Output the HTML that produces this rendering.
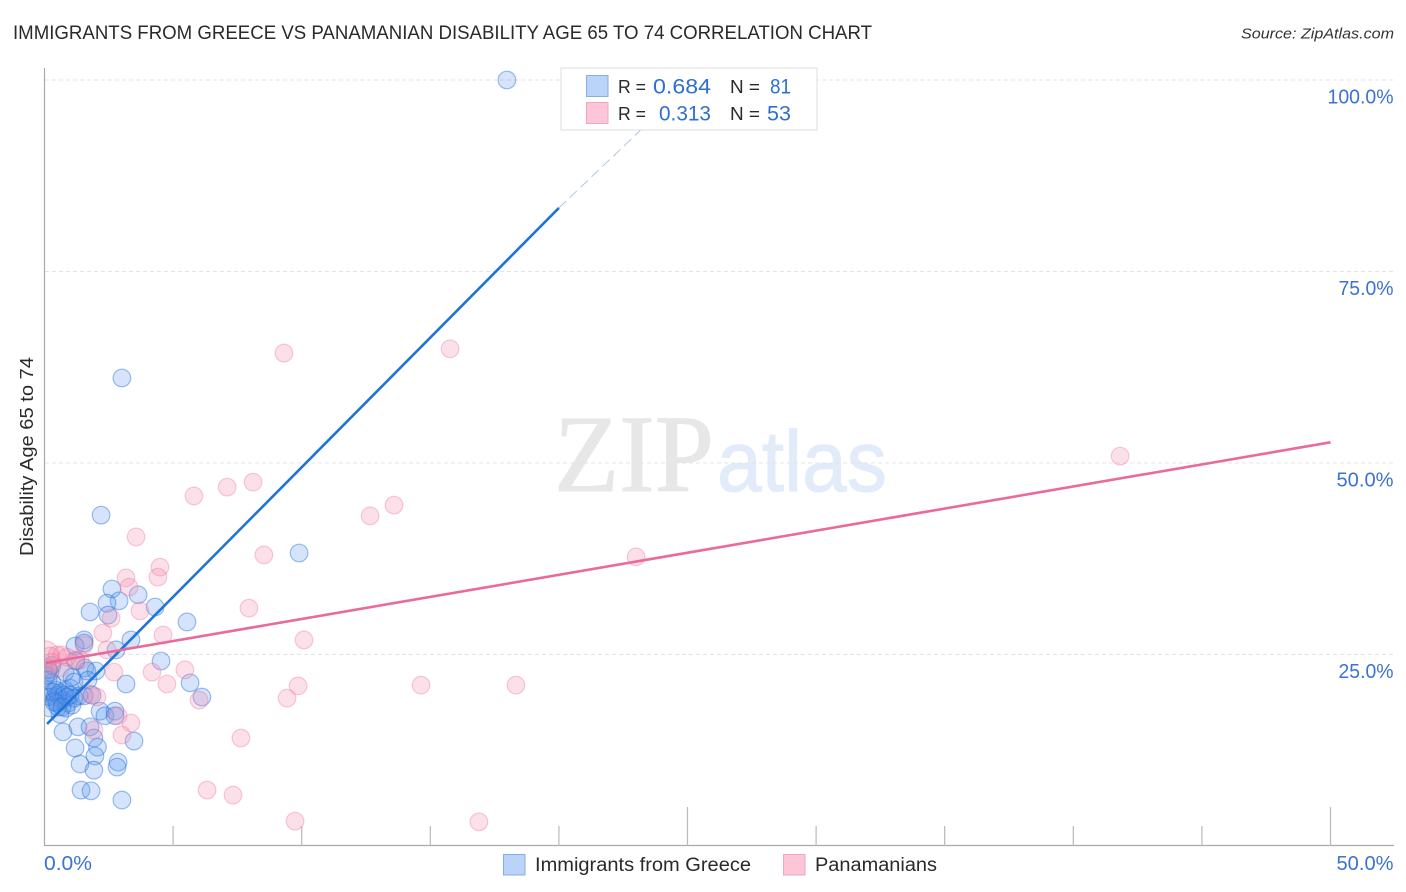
<!DOCTYPE html>
<html lang="en">
<head>
<meta charset="utf-8">
<title>Immigrants from Greece vs Panamanian Disability Age 65 to 74 Correlation Chart</title>
<style>
html,body{margin:0;padding:0;background:#fff;width:1406px;height:892px;overflow:hidden}
svg{display:block;font-family:"Liberation Sans",sans-serif}
</style>
</head>
<body>
<svg id="chart" xmlns="http://www.w3.org/2000/svg" width="1406" height="892" viewBox="0 0 1406 892">
  <defs>
    <clipPath id="plot-clip"><rect x="45" y="66" width="1349" height="780"/></clipPath>
  </defs>
  <text x="13" y="39" font-size="19.5" fill="#2a2a2e" textLength="859" lengthAdjust="spacingAndGlyphs">IMMIGRANTS FROM GREECE VS PANAMANIAN DISABILITY AGE 65 TO 74 CORRELATION CHART</text>
  <text x="1241" y="38.5" font-size="15" font-style="italic" fill="#333" textLength="153" lengthAdjust="spacingAndGlyphs">Source: ZipAtlas.com</text>

  <g>
    <text x="554" y="491" font-family="'Liberation Serif',serif" font-size="110" fill="#e7e7e7" stroke="#e7e7e7" stroke-width="1" textLength="160" lengthAdjust="spacingAndGlyphs">ZIP</text>
    <text x="717" y="491" font-size="86" fill="#e2ebf9" stroke="#e2ebf9" stroke-width="1" textLength="170" lengthAdjust="spacingAndGlyphs">atlas</text>
  </g>

  <g id="grid"></g>
  <g id="axes"></g>
  <g id="blue-points" clip-path="url(#plot-clip)"></g>
  <g id="pink-points" clip-path="url(#plot-clip)"></g>
  <g id="trends"></g>
  <g id="labels"></g>

  <text transform="translate(33,456.5) rotate(-90)" text-anchor="middle" font-size="18.5" fill="#2a2a2e" textLength="199" lengthAdjust="spacingAndGlyphs">Disability Age 65 to 74</text>

  <g>
    <rect x="561" y="68" width="256" height="62" fill="#fff" fill-opacity="0.92" stroke="#dedede" stroke-width="1"/>
    <rect x="586.5" y="75.5" width="21.5" height="21" fill="#b9d4f8" stroke="#86aee6"/>
    <rect x="586.5" y="102.5" width="21.5" height="21" fill="#fcc5d8" stroke="#f3a6c0"/>
    <text x="618" y="93" font-size="18.5" fill="#2a2a2e" textLength="28" lengthAdjust="spacingAndGlyphs">R =</text>
    <text x="653" y="93.5" font-size="21" fill="#2f6fd0" textLength="58" lengthAdjust="spacingAndGlyphs">0.684</text>
    <text x="730" y="93" font-size="18.5" fill="#2a2a2e" textLength="30" lengthAdjust="spacingAndGlyphs">N =</text>
    <text x="770" y="93.5" font-size="21" fill="#2f6fd0" textLength="21" lengthAdjust="spacingAndGlyphs">81</text>
    <text x="618" y="120" font-size="18.5" fill="#2a2a2e" textLength="28" lengthAdjust="spacingAndGlyphs">R =</text>
    <text x="659" y="120.5" font-size="21" fill="#2f6fd0" textLength="52" lengthAdjust="spacingAndGlyphs">0.313</text>
    <text x="730" y="120" font-size="18.5" fill="#2a2a2e" textLength="30" lengthAdjust="spacingAndGlyphs">N =</text>
    <text x="767" y="120.5" font-size="21" fill="#2f6fd0" textLength="24" lengthAdjust="spacingAndGlyphs">53</text>
  </g>

  <g>
    <g>
      <rect x="503.5" y="854.5" width="21.5" height="20.5" fill="#b9d4f8" stroke="#86aee6"/>
      <text x="535" y="871" font-size="19" fill="#2a2a2e" textLength="216" lengthAdjust="spacingAndGlyphs">Immigrants from Greece</text>
    </g>
    <g>
      <rect x="783.5" y="854.5" width="21.5" height="20.5" fill="#fcc5d8" stroke="#f3a6c0"/>
      <text x="815" y="871" font-size="19" fill="#2a2a2e" textLength="122" lengthAdjust="spacingAndGlyphs">Panamanians</text>
    </g>
  </g>
</svg>
<script>
const greeceX = [17.98,3.01,2.20,9.90,2.62,2.90,2.43,3.64,1.77,2.47,4.30,5.54,1.54,1.19,1.54,3.36,2.78,4.53,1.57,2.00,1.65,5.66,3.17,6.12,1.22,0.80,0.21,0.29,0.10,0.21,0.41,0.60,0.80,1.00,1.07,1.69,1.15,0.14,0.29,0.41,0.52,0.68,0.91,1.07,0.84,0.60,0.21,1.34,1.54,1.85,0.72,1.30,1.77,2.16,2.35,2.74,2.74,3.48,1.92,2.06,1.19,1.96,1.38,2.86,2.82,1.92,1.42,1.81,3.01,0.14,0.06,0.45,0.33,0.49,0.76,0.52,1.00,1.15,0.37,0.87,0.68];
const greeceY = [100,61.1,43.2,38.25,33.55,32.0,31.7,32.8,30.55,30.15,31.2,29.25,26.9,26.1,26.5,26.9,25.6,24.15,23.25,22.85,22.85,21.3,21.15,19.45,24.15,22.7,22.7,21.3,20.35,19.45,19.45,20.0,20.35,20.6,22.05,21.65,21.4,23.0,23.6,19.05,19.7,19.05,18.65,18.4,18.0,17.2,18.0,19.6,19.6,19.7,14.9,15.55,15.55,17.6,17.0,17.6,17.0,13.7,14.1,12.9,12.8,11.75,10.7,10.95,10.3,9.9,7.3,7.2,6.0,21.65,22.3,20.35,20.1,18.65,19.7,18.15,19.7,19.3,18.8,19.45,18.15];
const panamanianX = [0.02,15.77,9.31,41.82,8.11,7.10,5.81,13.59,12.66,3.56,8.53,23.0,4.49,4.41,3.17,3.29,7.95,3.71,2.59,4.61,10.09,2.27,1.54,2.43,4.18,5.46,2.70,4.76,14.64,18.33,9.86,9.43,6.01,2.04,1.77,2.86,3.36,3.01,1.92,7.64,6.32,7.33,9.74,16.89,0.21,0.49,0.68,0.88,0.29,0.14,1.19,1.38,0.60];
const panamanianY = [24.95,64.9,64.35,50.9,47.5,46.85,45.7,44.5,43.1,40.35,38.0,37.75,36.4,35.1,35.0,33.8,31.05,30.7,29.75,27.55,26.9,27.8,26.25,25.6,22.7,23.0,22.7,21.15,21.0,21.0,20.9,19.3,19.05,19.45,19.85,17.0,16.05,14.5,15.15,14.1,7.3,6.65,3.25,3.15,24.8,24.95,24.95,24.65,24.0,23.25,24.3,24.3,23.25];
const yTickValues = [100,75,50,25];
const yTickLabels = ["100.0%","75.0%","50.0%","25.0%"];
const xTickValues = [5,10,15,20,25,30,35,40,45,50];
const xTickLabels = ["0.0%","50.0%"];
const greeceTrendX = [0.1,20];
const greeceTrendY = [15.93,83.3];
const greeceDashX = [20,24.6];
const greeceDashY = [83.3,98];
const panamanianTrendX = [0.05,50];
const panamanianTrendY = [23.9,52.7];

const NS = 'http://www.w3.org/2000/svg';
const sx = v => 44.5 + v * 25.72;
const sy = v => 846 - v * 7.66;
const labelWidth = s => s.length > 5 ? 66 : (s.charAt(0) === '5' ? 57 : 55);
function make(tag, attrs, parent) {
  const el = document.createElementNS(NS, tag);
  for (const k in attrs) el.setAttribute(k, attrs[k]);
  parent.appendChild(el);
  return el;
}

const grid = document.getElementById('grid');
yTickValues.forEach(function (v) {
  const line = make('line', {x1: 45, x2: 1394, y1: sy(v), y2: sy(v), stroke: '#e4e4e4', 'stroke-width': 1, 'stroke-dasharray': '4 3'}, grid);
  
  
});

const axes = document.getElementById('axes');
const yAxis = make('line', {x1: 44.5, x2: 44.5, y1: 68, y2: 846, stroke: '#aaaaaa', 'stroke-width': 1.2}, axes);


const xAxis = make('line', {x1: 44, x2: 1394, y1: 845.5, y2: 845.5, stroke: '#aaaaaa', 'stroke-width': 1.2}, axes);


xTickValues.forEach(function (v) {
  const tall = v % 25 === 0;
  const tick = make('line', {x1: sx(v), x2: sx(v), y1: tall ? 807 : 826, y2: 846, stroke: '#b8b8b8', 'stroke-width': 1.2}, axes);
  
  
});

function drawPoints(xs, ys, groupId, fill, stroke, pointName) {
  const group = document.getElementById(groupId);
  xs.forEach(function (x, i) {
    const oversized = groupId === 'pink-points' && i === 0;
    const c = make('circle', {cx: sx(x), cy: sy(ys[i]), r: oversized ? 14 : 8.8, fill: fill, stroke: stroke, 'stroke-width': 1.2}, group);
    
    
  });
}
drawPoints(greeceX, greeceY, 'blue-points', 'rgba(86,148,235,0.25)', 'rgba(40,112,215,0.45)', 'greece-point');
drawPoints(panamanianX, panamanianY, 'pink-points', 'rgba(245,140,175,0.27)', 'rgba(236,110,155,0.36)', 'panamanian-point');

const trends = document.getElementById('trends');
const blueDash = make('line', {x1: sx(greeceDashX[0]), y1: sy(greeceDashY[0]), x2: sx(greeceDashX[1]), y2: sy(greeceDashY[1]), stroke: '#b4c4e6', 'stroke-width': 1, 'stroke-dasharray': '10 5'}, trends);


const blueLine = make('line', {x1: sx(greeceTrendX[0]), y1: sy(greeceTrendY[0]), x2: sx(greeceTrendX[1]), y2: sy(greeceTrendY[1]), stroke: '#1f74d6', 'stroke-width': 2.6}, trends);


const pinkLine = make('line', {x1: sx(panamanianTrendX[0]), y1: sy(panamanianTrendY[0]), x2: sx(panamanianTrendX[1]), y2: sy(panamanianTrendY[1]), stroke: '#e96a9b', 'stroke-width': 2.6}, trends);



const labels = document.getElementById('labels');
yTickValues.forEach(function (v, i) {
  const t = make('text', {x: 1393.5, y: sy(v) + 23.5, 'text-anchor': 'end', 'font-size': 20, fill: '#3b72d4', textLength: labelWidth(yTickLabels[i]), lengthAdjust: 'spacingAndGlyphs'}, labels);
  
  
  t.textContent = yTickLabels[i];
});
const x0Label = make('text', {x: 44, y: 870, 'font-size': 20, fill: '#3b72d4', textLength: 48, lengthAdjust: 'spacingAndGlyphs'}, labels);


x0Label.textContent = xTickLabels[0];
const x1Label = make('text', {x: 1393.5, y: 870, 'text-anchor': 'end', 'font-size': 20, fill: '#3b72d4', textLength: labelWidth(xTickLabels[1]), lengthAdjust: 'spacingAndGlyphs'}, labels);


x1Label.textContent = xTickLabels[1];
</script>
</body>
</html>
